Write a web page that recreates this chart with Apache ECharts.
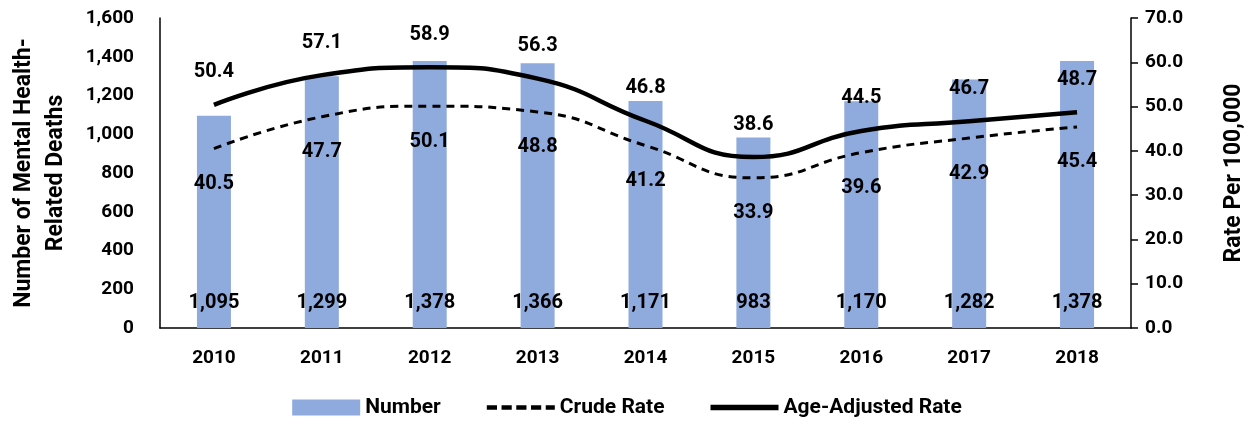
<!DOCTYPE html>
<html>
<head>
<meta charset="utf-8">
<script src="https://cdn.jsdelivr.net/npm/echarts@6/dist/echarts.min.js"></script>
<style>
  html, body { margin: 0; padding: 0; background: #fff; }
  #chart { width: 1254px; height: 425px; }
</style>
</head>
<body>
<div id="chart"></div>
<script>
const years = ["2010", "2011", "2012", "2013", "2014", "2015", "2016", "2017", "2018"];
const numberDeaths = [1095, 1299, 1378, 1366, 1171, 983, 1170, 1282, 1378];
const crudeRate = [40.5, 47.7, 50.1, 48.8, 41.2, 33.9, 39.6, 42.9, 45.4];
const ageAdjustedRate = [50.4, 57.1, 58.9, 56.3, 46.8, 38.6, 44.5, 46.7, 48.7];

const FONT = "Roboto";
const labelStyle = { color: "#000", fontWeight: "bold", fontSize: 19, fontFamily: FONT };

// legend icons for the two lines (solid bar and five dashes)
const solidIcon = "path://M0,0H60V5H0Z";
const dashIcon = "path://M0,0H9V4H0Z M13,0H22V4H13Z M26,0H35V4H26Z M39,0H48V4H39Z M52,0H60V4H52Z";

var myChart = echarts.init(document.getElementById("chart"));

var option = {
  animation: false,
  textStyle: { fontFamily: FONT },
  grid: { left: 155, right: 123, top: 18, bottom: 97 },
  legend: {
    bottom: 2,
    itemWidth: 68,
    itemHeight: 16,
    itemGap: 46,
    textStyle: { ...labelStyle, fontSize: 21 },
    data: [
      { name: "Number", icon: "rect" },
      { name: "Crude Rate", icon: dashIcon, itemStyle: { color: "#000", opacity: 1 } },
      { name: "Age-Adjusted Rate", icon: solidIcon, itemStyle: { color: "#000", opacity: 1 } },
    ],
  },
  xAxis: {
    type: "category",
    data: years,
    axisLine: { lineStyle: { color: "#000", width: 1.5 } },
    axisTick: { show: false },
    axisLabel: { ...labelStyle, margin: 21 },
  },
  yAxis: [
    {
      type: "value",
      min: 0,
      max: 1600,
      interval: 200,
      name: "Number of Mental Health-\nRelated Deaths",
      nameLocation: "middle",
      nameGap: 88,
      nameTextStyle: { ...labelStyle, fontSize: 23, lineHeight: 32 },
      axisLine: { show: true, lineStyle: { color: "#000", width: 1.5 } },
      axisTick: { show: false },
      splitLine: { show: false },
      axisLabel: {
        ...labelStyle,
        margin: 26,
        formatter: (v) => v.toLocaleString("en-US"),
      },
    },
    {
      type: "value",
      min: 0,
      max: 70,
      interval: 10,
      name: "Rate Per 100,000",
      nameLocation: "middle",
      nameGap: 92,
      nameRotate: 90,
      nameTextStyle: { ...labelStyle, fontSize: 23 },
      axisLine: { show: true, lineStyle: { color: "#000", width: 1.5 } },
      axisTick: { show: true, inside: false, length: 7, lineStyle: { color: "#000", width: 1.5 } },
      splitLine: { show: false },
      axisLabel: {
        ...labelStyle,
        margin: 14,
        formatter: (v) => v.toFixed(1),
      },
    },
  ],
  series: [
    {
      name: "Number",
      type: "bar",
      data: numberDeaths,
      barWidth: 34,
      itemStyle: { color: "#8FAADC" },
      label: {
        show: true,
        position: "insideBottom",
        distance: 15,
        ...labelStyle,
        fontSize: 20,
        formatter: (p) => p.value.toLocaleString("en-US"),
      },
    },
    {
      name: "Crude Rate",
      type: "line",
      yAxisIndex: 1,
      data: crudeRate,
      smooth: 0.5,
      symbol: "circle",
      symbolSize: 1,
      showSymbol: true,
      lineStyle: { color: "#000", width: 3, type: [8, 6] },
      itemStyle: { color: "transparent" },
      label: {
        show: true,
        position: "bottom",
        distance: 25,
        ...labelStyle,
        fontSize: 20,
        formatter: (p) => p.value.toFixed(1),
      },
    },
    {
      name: "Age-Adjusted Rate",
      type: "line",
      yAxisIndex: 1,
      data: ageAdjustedRate,
      smooth: 0.5,
      symbol: "circle",
      symbolSize: 1,
      showSymbol: true,
      lineStyle: { color: "#000", width: 4.5 },
      itemStyle: { color: "transparent" },
      label: {
        show: true,
        position: "top",
        distance: 22,
        ...labelStyle,
        fontSize: 20,
        formatter: (p) => p.value.toFixed(1),
      },
    },
  ],
};

myChart.setOption(option);
</script>
</body>
</html>
